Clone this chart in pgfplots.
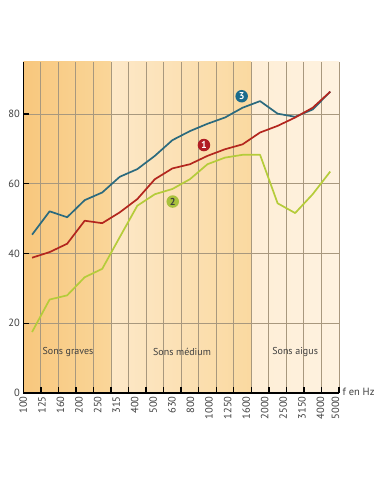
\documentclass[border=0pt]{standalone}
\usepackage{pgfplots}
\pgfplotsset{compat=1.18}
\usepackage{fontspec}
\setmainfont{PT Sans}
\definecolor{gridc}{HTML}{A8987E}
\definecolor{cblue}{HTML}{2B6A7E}
\definecolor{cred}{HTML}{B3261E}
\definecolor{cgreen}{HTML}{B5CC3A}
\definecolor{cbluec}{HTML}{1B6C8C}
\definecolor{credc}{HTML}{B01C24}
\definecolor{cgreenc}{HTML}{A9C13C}
\definecolor{txt}{HTML}{3F3F3F}
\definecolor{zA1}{HTML}{F8C77D}
\definecolor{zA2}{HTML}{FAD699}
\definecolor{zB1}{HTML}{FDE8C8}
\definecolor{zB2}{HTML}{FAD9A0}
\definecolor{zC1}{HTML}{FEEED6}
\definecolor{zC2}{HTML}{FEF2E0}
\begin{document}
\begin{tikzpicture}
\path[use as bounding box] (-23.3pt,-99pt) rectangle (357.7pt,393pt);
\begin{axis}[
  scale only axis, width=315.7pt, height=331.3pt,
  xmin=0, xmax=18, ymin=0, ymax=95,
  hide axis,
]
\fill[left color=zA1, right color=zA2] (axis cs:0,0) rectangle (axis cs:5,95);
\fill[left color=zB1, right color=zB2] (axis cs:5,0) rectangle (axis cs:13,95);
\fill[left color=zC1, right color=zC2] (axis cs:13,0) rectangle (axis cs:18,95);
\end{axis}
\begin{axis}[
  scale only axis, width=315.7pt, height=331.3pt,
  xmin=0, xmax=18, ymin=0, ymax=95,
  axis x line*=bottom, axis y line*=left,
  axis line style={-, line width=1.4pt, black},
  xtick={1,...,18}, xticklabels={},
  ytick={0,20,40,60,80},
  tick align=inside,
  major tick length=6pt,
  tick style={line width=1.4pt, black},
  xmajorgrids=true, ymajorgrids=true,
  grid style={draw=gridc, line width=0.9pt},
  extra x ticks={0,1.0588,2.1176,3.1765,4.2353,5.2941,6.3529,7.4118,8.4706,9.5294,10.5882,11.6471,12.7059,13.7647,14.8235,15.8824,16.9412,17.8},
  extra x tick labels={100,125,160,200,250,315,400,500,630,800,1000,1250,1600,2000,2500,3150,4000,5000},
  extra x tick style={xmajorgrids=false, major tick length=0pt, tick style={draw=none}},
  x tick label style={rotate=90, anchor=east, font=\fontsize{10.5}{11}\selectfont, text=txt},
  y tick label style={font=\fontsize{10.5}{11}\selectfont, text=txt},
  /pgf/number format/assume math mode=true,
  clip=false,
]
\addplot[cblue, line width=1.7pt, line join=round] coordinates {
(0.5,45.4)(1.5,52.1)(2.5,50.4)(3.5,55.3)(4.5,57.5)(5.5,62)(6.5,64.2)(7.5,68)(8.5,72.5)
(9.5,75.1)(10.5,77.2)(11.5,79)(12.5,81.8)(13.5,83.7)(14.5,80.1)(15.5,79.2)(16.5,81.3)(17.5,86.4)};
\addplot[cred, line width=1.7pt, line join=round] coordinates {
(0.5,38.8)(1.5,40.4)(2.5,42.8)(3.5,49.4)(4.5,48.7)(5.5,51.8)(6.5,55.6)(7.5,61.3)(8.5,64.4)
(9.5,65.6)(10.5,68)(11.5,69.9)(12.5,71.3)(13.5,74.7)(14.5,76.6)(15.5,79)(16.5,81.8)(17.5,86.4)};
\addplot[cgreen, line width=1.7pt, line join=round] coordinates {
(0.5,17.5)(1.5,26.8)(2.5,28)(3.5,33.2)(4.5,35.6)(5.5,44.7)(6.5,53.7)(7.5,57)(8.5,58.5)
(9.5,61.3)(10.5,65.6)(11.5,67.5)(12.5,68.3)(13.5,68.3)(14.5,54.4)(15.5,51.6)(16.5,57)(17.5,63.5)};

\node[circle, fill=cbluec, inner sep=0pt, minimum size=12.5pt, text=white, font=\bfseries\fontsize{10}{10}\selectfont] at (axis cs:12.45,85.1) {3};
\node[circle, fill=credc, inner sep=0pt, minimum size=12.5pt, text=white, font=\bfseries\fontsize{10}{10}\selectfont] at (axis cs:10.3,71.1) {1};
\node[circle, fill=cgreenc, inner sep=0pt, minimum size=12.5pt, text=txt, font=\bfseries\fontsize{10}{10}\selectfont] at (axis cs:8.52,54.9) {2};

\node[text=txt, font=\fontsize{10}{11}\selectfont] at (axis cs:2.55,11.7) {Sons graves};
\node[text=txt, font=\fontsize{10}{11}\selectfont] at (axis cs:9.05,11.7) {Sons médium};
\node[text=txt, font=\fontsize{10}{11}\selectfont] at (axis cs:15.5,11.7) {Sons aigus};
\node[text=txt, anchor=west, font=\fontsize{10.5}{11}\selectfont, inner sep=0pt] at (axis cs:18.2,0.4) {f en Hz};
\end{axis}
\end{tikzpicture}
\end{document}
